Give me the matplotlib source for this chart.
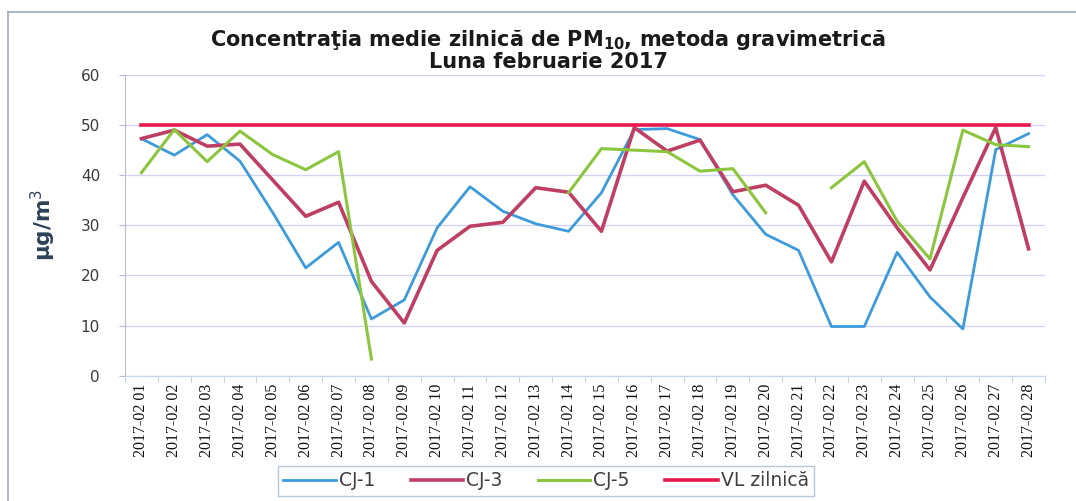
import numpy as np
import matplotlib.pyplot as plt
from matplotlib.lines import Line2D

zile = [f"2017-02 {z:02d}" for z in range(1, 29)]

cj1 = [47.3, 44.0, 48.1, 42.8, 32.5, 21.5, 26.6, 11.3, 15.1, 29.5,
       37.7, 32.8, 30.3, 28.8, 36.5, 49.1, 49.3, 47.1, 36.1, 28.2,
       25.0, 9.8, 9.8, 24.6, 15.7, 9.3, 45.1, 48.3]
cj3 = [47.3, 49.0, 45.8, 46.2, 39.0, 31.8, 34.6, 18.8, 10.5, 25.0,
       29.8, 30.6, 37.5, 36.6, 28.8, 49.5, 44.8, 47.0, 36.7, 38.0,
       34.0, 22.7, 38.8, 29.5, 21.1, 35.5, 49.5, 25.3]
nan = np.nan
cj5 = [40.5, 49.1, 42.7, 48.8, 44.1, 41.1, 44.7, 3.3, nan, nan,
       nan, nan, nan, 36.5, 45.3, 45.0, 44.7, 40.8, 41.3, 32.5,
       nan, 37.5, 42.7, 30.8, 23.3, 49.0, 46.1, 45.7]
vl = [50] * 28

plt.rcParams['mathtext.fontset'] = 'custom'
plt.rcParams['mathtext.bf'] = 'DejaVu Sans:bold'
plt.rcParams['mathtext.rm'] = 'DejaVu Sans'

W, H = 1076, 501
fig = plt.figure(figsize=(W / 100, H / 100), dpi=100)
ax = fig.add_axes([125 / W, (H - 375.6) / H, (1045 - 125) / W, (375.6 - 75) / H])

x = np.arange(len(zile))
ax.plot(x, cj1, color='#3D9BDB', lw=2, label='CJ-1')
ax.plot(x, cj3, color='#BE3F63', lw=2.6, label='CJ-3')
ax.plot(x, cj5, color='#8CC63E', lw=2.2, label='CJ-5')
ax.plot(x, vl, color='#E8194E', lw=2.6, label='VL zilnică')

ax.set_xlim(-0.5, len(zile) - 0.5)
ax.set_ylim(0, 60)
ax.set_yticks(range(0, 61, 10))
ax.yaxis.grid(True, color='#D2D2F2', lw=1)
ax.set_axisbelow(True)

ax.set_xticks(x)
ax.set_xticklabels(zile, rotation=90, family='Liberation Serif', fontsize=11.5, color='#111111')
ax.set_xticks(np.arange(-0.5, len(zile), 1), minor=True)
ax.tick_params(axis='x', which='major', length=0, pad=6)
ax.tick_params(axis='x', which='minor', length=4, color='#B8C4D8')
ax.tick_params(axis='y', length=4, color='#B8BCC8', labelsize=11, labelcolor='#3A3A3A', pad=14)

for s in ['top', 'right']:
    ax.spines[s].set_visible(False)
ax.spines['left'].set_color('#B8BCC8')
ax.spines['bottom'].set_color('#C8D4E8')

ax.set_ylabel('µg/m$^3$', fontsize=15.5, fontweight='bold', color='#2E4257', labelpad=16)

fig.text(548 / W, 1 - 46 / H, r'Concentraţia medie zilnică de PM$_{\mathbf{10}}$, metoda gravimetrică',
         ha='center', va='baseline', fontsize=15, fontweight='bold', family='DejaVu Sans',
         color='#1A1A1A')
fig.text(548 / W, 1 - 68 / H, 'Luna februarie 2017',
         ha='center', va='baseline', fontsize=15, fontweight='bold', family='DejaVu Sans',
         color='#1A1A1A')

leg = fig.legend(loc='center', bbox_to_anchor=(546 / W, 1 - 481 / H), ncol=4,
                 fontsize=13.5, frameon=True, fancybox=False, handlelength=2.8,
                 columnspacing=1.9, borderpad=0.3, handletextpad=0.15)
leg.get_frame().set_edgecolor('#A8B8D0')
leg.get_frame().set_linewidth(1)
for t in leg.get_texts():
    t.set_color('#404040')

# chenarul paginii
fig.add_artist(Line2D([8 / W, 8 / W], [0, 1 - 12 / H], color='#A0A8C0', lw=1.2))
fig.add_artist(Line2D([8 / W, 1], [1 - 12 / H, 1 - 12 / H], color='#A0A8C0', lw=1.2))

fig.savefig('out.png', dpi=100)
